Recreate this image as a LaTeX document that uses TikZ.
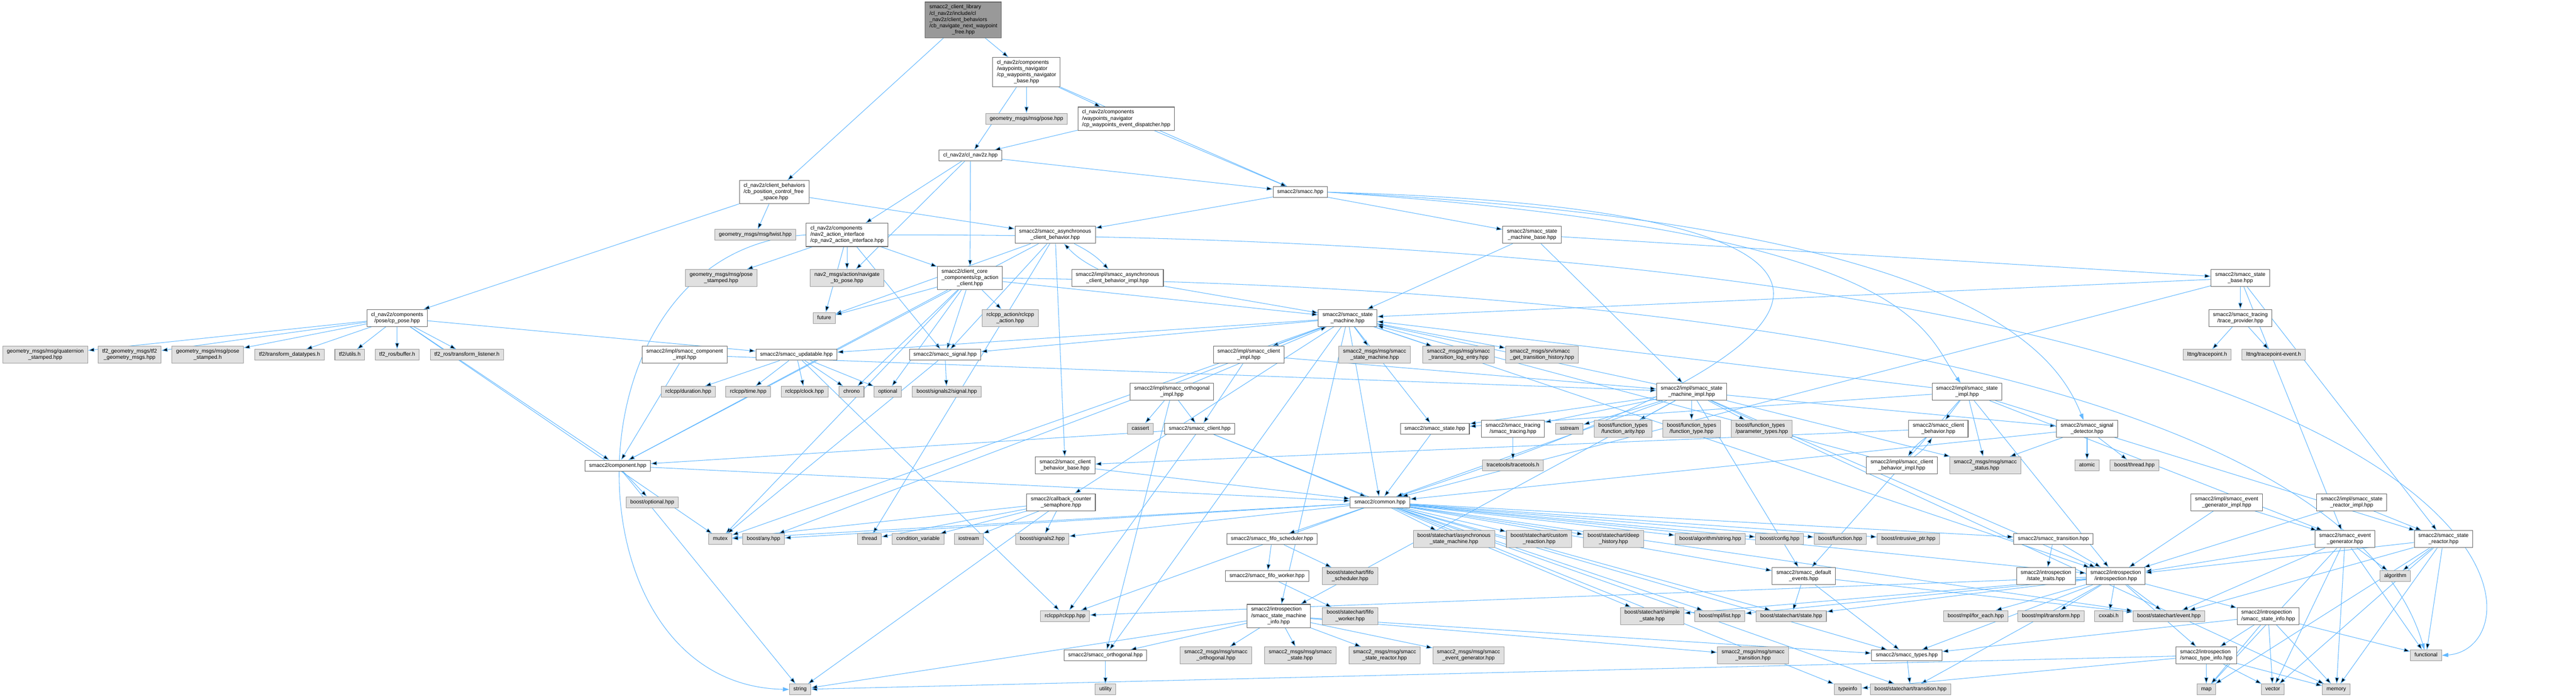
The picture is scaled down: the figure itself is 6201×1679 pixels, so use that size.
\documentclass[tikz,border=0pt]{standalone}
\usepackage{fontspec}
\setmainfont{Liberation Sans}
\usetikzlibrary{arrows.meta,backgrounds}
\definecolor{edgeblue}{HTML}{63B8FF}
\definecolor{docline}{HTML}{666666}
\definecolor{extline}{HTML}{999999}
\definecolor{extfill}{HTML}{E0E0E0}
\definecolor{rootfill}{HTML}{999999}
\newcommand{\dlab}[2]{\begin{tabular}{@{}l@{}}#1\\\multicolumn{1}{@{}c@{}}{#2}\end{tabular}}
\newcommand{\slab}[1]{\begin{tabular}{@{}c@{}}#1\end{tabular}}
\begin{document}
\begin{tikzpicture}[x=0.01cm,y=-0.01cm]
      \tikzset{incbox/.style={draw=docline, fill=white, line width=0.013cm, inner xsep=0.1cm, inner ysep=0.055cm, font=\fontsize{3.68pt}{4.27pt}\selectfont},
               extbox/.style={incbox, draw=extline, fill=extfill},
               rootbox/.style={incbox, fill=rootfill},
               dep/.style={draw=edgeblue, line width=0.013cm, -{Triangle[length=0.15cm,width=0.1cm]}}}
      \useasboundingbox (0,0) rectangle (6201,1679);
%% Files
      \node[rootbox] (root) at (2319,48) {\dlab{smacc2\_client\_library\\/cl\_nav2z/include/cl\\\_nav2z/client\_behaviors\\/cb\_navigate\_next\_waypoint}{\_free.hpp}};
      \node[incbox] (wnb) at (2471,174) {\dlab{cl\_nav2z/components\\/waypoints\_navigator\\/cp\_waypoints\_navigator}{\_base.hpp}};
      \node[extbox] (posehpp) at (2471,286) {\slab{geometry\_msgs/msg/pose.hpp}};
      \node[incbox] (wed) at (2711,286) {\dlab{cl\_nav2z/components\\/waypoints\_navigator}{/cp\_waypoints\_event\_dispatcher.hpp}};
      \node[incbox] (clnav) at (2336,375) {\slab{cl\_nav2z/cl\_nav2z.hpp}};
      \node[incbox] (smacc) at (3130,463) {\slab{smacc2/smacc.hpp}};
      \node[incbox] (cbpos) at (1864,463) {\dlab{cl\_nav2z/client\_behaviors\\/cb\_position\_control\_free}{\_space.hpp}};
      \node[extbox] (twist) at (1818,566) {\slab{geometry\_msgs/msg/twist.hpp}};
      \node[incbox] (nav2ai) at (2039,566) {\dlab{cl\_nav2z/components\\/nav2\_action\_interface}{/cp\_nav2\_action\_interface.hpp}};
      \node[incbox] (async) at (2540,566) {\dlab{smacc2/smacc\_asynchronous}{\_client\_behavior.hpp}};
      \node[incbox] (smbase) at (3688,566) {\dlab{smacc2/smacc\_state}{\_machine\_base.hpp}};
      \node[extbox] (pstamped) at (1736,670) {\dlab{geometry\_msgs/msg/pose}{\_stamped.hpp}};
      \node[extbox] (navpose) at (2039,670) {\dlab{nav2\_msgs/action/navigate}{\_to\_pose.hpp}};
      \node[incbox] (actcl) at (2335,670) {\dlab{smacc2/client\_core\\\_components/cp\_action}{\_client.hpp}};
      \node[incbox] (asyncimpl) at (2690,670) {\dlab{smacc2/impl/smacc\_asynchronous}{\_client\_behavior\_impl.hpp}};
      \node[incbox] (statebase) at (5393,670) {\dlab{smacc2/smacc\_state}{\_base.hpp}};
      \node[incbox] (cppose) at (956,766) {\dlab{cl\_nav2z/components}{/pose/cp\_pose.hpp}};
      \node[extbox] (future) at (1984,766) {\slab{future}};
      \node[extbox] (rclact) at (2432,766) {\dlab{rclcpp\_action/rclcpp}{\_action.hpp}};
      \node[incbox] (sm) at (3244,766) {\dlab{smacc2/smacc\_state}{\_machine.hpp}};
      \node[incbox] (trace) at (5393,766) {\dlab{smacc2/smacc\_tracing}{/trace\_provider.hpp}};
      \node[extbox] (quat) at (109,855) {\dlab{geometry\_msgs/msg/quaternion}{\_stamped.hpp}};
      \node[extbox] (tf2gm) at (312,855) {\dlab{tf2\_geometry\_msgs/tf2}{\_geometry\_msgs.hpp}};
      \node[extbox] (pstampedh) at (500,855) {\dlab{geometry\_msgs/msg/pose}{\_stamped.h}};
      \node[extbox] (tf2dt) at (697,855) {\slab{tf2/transform\_datatypes.h}};
      \node[extbox] (tf2utils) at (842,855) {\slab{tf2/utils.h}};
      \node[extbox] (tf2buf) at (956,855) {\slab{tf2\_ros/buffer.h}};
      \node[extbox] (tf2tl) at (1124,855) {\slab{tf2\_ros/transform\_listener.h}};
      \node[incbox] (compimpl) at (1648,855) {\dlab{smacc2/impl/smacc\_component}{\_impl.hpp}};
      \node[incbox] (updatable) at (1917,855) {\slab{smacc2/smacc\_updatable.hpp}};
      \node[incbox] (signal) at (2275,855) {\slab{smacc2/smacc\_signal.hpp}};
      \node[incbox] (clientimpl) at (3006,855) {\dlab{smacc2/impl/smacc\_client}{\_impl.hpp}};
      \node[extbox] (msgsm) at (3309,855) {\dlab{smacc2\_msgs/msg/smacc}{\_state\_machine.hpp}};
      \node[extbox] (msgtle) at (3511,855) {\dlab{smacc2\_msgs/msg/smacc}{\_transition\_log\_entry.hpp}};
      \node[extbox] (srvgth) at (3712,855) {\dlab{smacc2\_msgs/srv/smacc}{\_get\_transition\_history.hpp}};
      \node[extbox] (tptp) at (5313,855) {\slab{lttng/tracepoint.h}};
      \node[extbox] (tpev) at (5473,855) {\slab{lttng/tracepoint-event.h}};
      \node[extbox] (duration) at (1657,944) {\slab{rclcpp/duration.hpp}};
      \node[extbox] (rtime) at (1801,944) {\slab{rclcpp/time.hpp}};
      \node[extbox] (rclock) at (1937,944) {\slab{rclcpp/clock.hpp}};
      \node[extbox] (chrono) at (2050,944) {\slab{chrono}};
      \node[extbox] (optional) at (2137,944) {\slab{optional}};
      \node[extbox] (sig2sig) at (2279,944) {\slab{boost/signals2/signal.hpp}};
      \node[incbox] (orthimpl) at (2821,944) {\dlab{smacc2/impl/smacc\_orthogonal}{\_impl.hpp}};
      \node[incbox] (smimpl) at (4072,944) {\dlab{smacc2/impl/smacc\_state}{\_machine\_impl.hpp}};
      \node[incbox] (stateimpl) at (4735,944) {\dlab{smacc2/impl/smacc\_state}{\_impl.hpp}};
      \node[extbox] (cassert) at (2745,1033) {\slab{cassert}};
      \node[incbox] (client) at (2888,1033) {\slab{smacc2/smacc\_client.hpp}};
      \node[incbox] (state) at (3454,1033) {\slab{smacc2/smacc\_state.hpp}};
      \node[incbox] (tracing) at (3642,1033) {\dlab{smacc2/smacc\_tracing}{/smacc\_tracing.hpp}};
      \node[extbox] (sstream) at (3778,1033) {\slab{sstream}};
      \node[extbox] (ftarity) at (3907,1033) {\dlab{boost/function\_types}{/function\_arity.hpp}};
      \node[extbox] (fttype) at (4072,1033) {\dlab{boost/function\_types}{/function\_type.hpp}};
      \node[extbox] (ftparam) at (4241,1033) {\dlab{boost/function\_types}{/parameter\_types.hpp}};
      \node[incbox] (cb) at (4666,1033) {\dlab{smacc2/smacc\_client}{\_behavior.hpp}};
      \node[incbox] (sigdet) at (5024,1033) {\dlab{smacc2/smacc\_signal}{\_detector.hpp}};
      \node[incbox] (component) at (1487,1122) {\slab{smacc2/component.hpp}};
      \node[incbox] (cbbase) at (2564,1121) {\dlab{smacc2/smacc\_client}{\_behavior\_base.hpp}};
      \node[extbox] (tracetools) at (3642,1121) {\slab{tracetools/tracetools.h}};
      \node[incbox] (cbimpl) at (4578,1121) {\dlab{smacc2/impl/smacc\_client}{\_behavior\_impl.hpp}};
      \node[extbox] (msgstatus) at (4779,1121) {\dlab{smacc2\_msgs/msg/smacc}{\_status.hpp}};
      \node[extbox] (atomic) at (5024,1121) {\slab{atomic}};
      \node[extbox] (bthread) at (5138,1121) {\slab{boost/thread.hpp}};
      \node[extbox] (boostopt) at (1570,1210) {\slab{boost/optional.hpp}};
      \node[incbox] (semaphore) at (2554,1210) {\dlab{smacc2/callback\_counter}{\_semaphore.hpp}};
      \node[incbox] (common) at (3322,1210) {\slab{smacc2/common.hpp}};
      \node[incbox] (egimpl) at (5360,1210) {\dlab{smacc2/impl/smacc\_event}{\_generator\_impl.hpp}};
      \node[incbox] (srimpl) at (5661,1210) {\dlab{smacc2/impl/smacc\_state}{\_reactor\_impl.hpp}};
      \node[extbox] (mutex) at (1734,1299) {\slab{mutex}};
      \node[extbox] (bany) at (1838,1299) {\slab{boost/any.hpp}};
      \node[extbox] (thread) at (2093,1299) {\slab{thread}};
      \node[extbox] (condvar) at (2210,1299) {\slab{condition\_variable}};
      \node[extbox] (iostream) at (2332,1299) {\slab{iostream}};
      \node[extbox] (signals2) at (2509,1299) {\slab{boost/signals2.hpp}};
      \node[incbox] (fifosched) at (3062,1299) {\slab{smacc2/smacc\_fifo\_scheduler.hpp}};
      \node[extbox] (asyncsm) at (3500,1299) {\dlab{boost/statechart/asynchronous}{\_state\_machine.hpp}};
      \node[extbox] (customr) at (3705,1299) {\dlab{boost/statechart/custom}{\_reaction.hpp}};
      \node[extbox] (deephist) at (3884,1299) {\dlab{boost/statechart/deep}{\_history.hpp}};
      \node[extbox] (algstr) at (4117,1299) {\slab{boost/algorithm/string.hpp}};
      \node[extbox] (bconfig) at (4284,1299) {\slab{boost/config.hpp}};
      \node[extbox] (bfunction) at (4430,1299) {\slab{boost/function.hpp}};
      \node[extbox] (intrusive) at (4594,1299) {\slab{boost/intrusive\_ptr.hpp}};
      \node[incbox] (transition) at (4943,1299) {\slab{smacc2/smacc\_transition.hpp}};
      \node[incbox] (evgen) at (5645,1299) {\dlab{smacc2/smacc\_event}{\_generator.hpp}};
      \node[incbox] (sreactor) at (5882,1299) {\dlab{smacc2/smacc\_state}{\_reactor.hpp}};
      \node[incbox] (fifoworker) at (3050,1388) {\slab{smacc2/smacc\_fifo\_worker.hpp}};
      \node[extbox] (bfifosched) at (3250,1388) {\dlab{boost/statechart/fifo}{\_scheduler.hpp}};
      \node[incbox] (defevents) at (4342,1388) {\dlab{smacc2/smacc\_default}{\_events.hpp}};
      \node[incbox] (traits) at (4925,1388) {\dlab{smacc2/introspection}{/state\_traits.hpp}};
      \node[incbox] (intro) at (5093,1388) {\dlab{smacc2/introspection}{/introspection.hpp}};
      \node[extbox] (algorithm) at (5766,1388) {\slab{algorithm}};
      \node[extbox] (rclcpp) at (2564,1484) {\slab{rclcpp/rclcpp.hpp}};
      \node[incbox] (sminfo) at (3078,1484) {\dlab{smacc2/introspection\\/smacc\_state\_machine}{\_info.hpp}};
      \node[extbox] (bfifoworker) at (3250,1484) {\dlab{boost/statechart/fifo}{\_worker.hpp}};
      \node[extbox] (simplestate) at (3977,1484) {\dlab{boost/statechart/simple}{\_state.hpp}};
      \node[extbox] (mpllist) at (4140,1484) {\slab{boost/mpl/list.hpp}};
      \node[extbox] (scstate) at (4312,1484) {\slab{boost/statechart/state.hpp}};
      \node[extbox] (foreach) at (4756,1484) {\slab{boost/mpl/for\_each.hpp}};
      \node[extbox] (mpltransform) at (4937,1484) {\slab{boost/mpl/transform.hpp}};
      \node[extbox] (cxxabi) at (5076,1484) {\slab{cxxabi.h}};
      \node[extbox] (scevent) at (5221,1484) {\slab{boost/statechart/event.hpp}};
      \node[incbox] (stateinfo) at (5460,1484) {\dlab{smacc2/introspection}{/smacc\_state\_info.hpp}};
      \node[incbox] (orth) at (2661,1579) {\slab{smacc2/smacc\_orthogonal.hpp}};
      \node[extbox] (msgorth) at (2927,1579) {\dlab{smacc2\_msgs/msg/smacc}{\_orthogonal.hpp}};
      \node[extbox] (msgstate) at (3130,1579) {\dlab{smacc2\_msgs/msg/smacc}{\_state.hpp}};
      \node[extbox] (msgsreactor) at (3333,1579) {\dlab{smacc2\_msgs/msg/smacc}{\_state\_reactor.hpp}};
      \node[extbox] (msgevgen) at (3535,1579) {\dlab{smacc2\_msgs/msg/smacc}{\_event\_generator.hpp}};
      \node[extbox] (msgtrans) at (4220,1579) {\dlab{smacc2\_msgs/msg/smacc}{\_transition.hpp}};
      \node[incbox] (types) at (4590,1579) {\slab{smacc2/smacc\_types.hpp}};
      \node[incbox] (typeinf) at (5311,1579) {\dlab{smacc2/introspection}{/smacc\_type\_info.hpp}};
      \node[extbox] (functional) at (5840,1579) {\slab{functional}};
      \node[extbox] (string) at (1926,1661) {\slab{string}};
      \node[extbox] (utility) at (2661,1661) {\slab{utility}};
      \node[extbox] (typeinfo) at (4448,1661) {\slab{typeinfo}};
      \node[extbox] (sctrans) at (4599,1661) {\slab{boost/statechart/transition.hpp}};
      \node[extbox] (map) at (5311,1661) {\slab{map}};
      \node[extbox] (vector) at (5471,1661) {\slab{vector}};
      \node[extbox] (memory) at (5624,1661) {\slab{memory}};
%Includes
      \begin{pgfonlayer}{background}
		\path[dep] (root) edge (cbpos) edge (wnb);
		\path[dep] (cbpos) edge (twist) edge (async) edge (cppose);
		\path[dep] (wnb) edge (posehpp) edge (wed) edge (clnav) edge (smacc);
		\path[dep] (wed) edge (clnav) edge (smacc);
		\path[dep] (clnav) edge (nav2ai) edge (navpose) edge (actcl) edge (smacc);
		\path[dep] (nav2ai) edge (pstamped) edge (navpose) edge (actcl) edge (future) edge (signal);
		\draw[dep] (nav2ai.east) .. controls (6150,560) and (6150,1560) .. (functional.east);
		\draw[dep] (nav2ai.west) .. controls (1350,600) and (1350,1650) .. (string.west);
		\path[dep] (smacc) edge (async) edge (smbase);
		\draw[dep] (smacc.east) .. controls (4600,500) and (4590,800) .. (common);
		\draw[dep] (smacc.east) .. controls (4750,540) and (4950,850) .. (sigdet);
		\draw[dep] (smacc.east) .. controls (4630,560) and (4630,800) .. (stateimpl);
		\path[dep] (async) edge (future) edge (cbbase) edge (component) edge (signal) edge (thread) edge[bend left=10] (asyncimpl);
		\path[dep] (asyncimpl) edge[bend left=10] (async) edge (sm);
		\path[dep] (actcl) edge (rclact) edge (future) edge (component) edge (signal) edge (optional) edge (chrono) edge (sm) edge (mutex);
		\draw[dep] (actcl.east) .. controls (4800,700) and (5700,1100) .. (functional);
		\path[dep] (cppose) edge (quat) edge (tf2gm) edge (pstampedh) edge (tf2dt) edge (tf2utils) edge (tf2buf) edge (tf2tl) edge (mutex) edge (component) edge (updatable);
		\path[dep] (component) edge (boostopt) edge (common) edge (string);
		\path[dep] (compimpl) edge (component) edge (smimpl);
		\path[dep] (updatable) edge (duration) edge (rtime) edge (rclock) edge (chrono) edge (optional) edge (rclcpp);
		\path[dep] (signal) edge (sig2sig) edge (mutex);
		\path[dep] (clientimpl) edge (client) edge (smimpl);
		\path[dep] (orthimpl) edge (cassert) edge (client) edge (orth) edge (sm);
		\path[dep] (client) edge (component) edge (common) edge (rclcpp) edge (typeinfo);
		\path[dep] (cbbase) edge (common);
		\path[dep] (semaphore) edge (mutex) edge (thread) edge (condvar) edge (iostream) edge (signals2) edge (string);
		\path[dep] (sm) edge (clientimpl) edge (bany) edge (mutex) edge (common) edge (intro) edge (sminfo) edge (signal) edge (updatable) edge (msgsm) edge (msgtle) edge (srvgth) edge (semaphore) edge (state) edge (orth);
		\path[dep] (smbase) edge (sm) edge (statebase) edge (smimpl);
		\path[dep] (statebase) edge (trace) edge (common) edge (evgen) edge (sreactor) edge (sm);
		\path[dep] (trace) edge (tptp) edge (tpev);
		\path[dep] (smimpl) edge (sm) edge (state) edge (tracing) edge (sstream) edge (ftarity) edge (fttype) edge (ftparam) edge (common) edge (sminfo) edge (msgstatus) edge (sigdet) edge (intro) edge (defevents) edge (memory);
		\path[dep] (stateimpl) edge (cb) edge (sm) edge (sreactor) edge (evgen) edge (intro) edge (msgstatus) edge (defevents) edge (state);
		\path[dep] (state) edge (common);
		\path[dep] (tracing) edge (tracetools);
		\path[dep] (cb) edge (cbbase) edge[bend right=10] (cbimpl);
		\path[dep] (cbimpl) edge[bend right=10] (cb) edge (sm);
		\path[dep] (sigdet) edge (msgstatus) edge (atomic) edge (bthread) edge (common);
		\path[dep] (egimpl) edge (evgen) edge (intro);
		\path[dep] (srimpl) edge (sreactor) edge (intro);
		\path[dep] (evgen) edge (intro) edge (scevent) edge (map) edge (vector) edge (memory) edge (functional) edge (algorithm);
		\path[dep] (sreactor) edge (intro) edge (algorithm) edge (functional) edge (scevent) edge (map) edge (vector) edge (memory);
		\path[dep] (transition) edge (traits) edge (intro);
		\path[dep] (intro) edge (foreach) edge (mpltransform) edge (cxxabi) edge (scevent) edge (stateinfo) edge (scstate) edge (simplestate) edge (mpllist) edge (types) edge (sctrans) edge (typeinf) edge (rclcpp);
		\path[dep] (stateinfo) edge (typeinf) edge (vector) edge (memory) edge (map) edge (functional) edge (types);
		\path[dep] (typeinf) edge (map) edge (vector) edge (memory) edge (typeinfo) edge (string);
		\path[dep] (types) edge (sctrans);
		\path[dep] (defevents) edge (scstate) edge (types) edge (scevent);
		\path[dep] (common) edge (asyncsm) edge (customr) edge (deephist) edge (algstr) edge (bconfig) edge (bfunction) edge (intrusive) edge (defevents) edge (fifosched) edge (simplestate) edge (mpllist) edge (scstate) edge (types) edge (scevent) edge (sctrans) edge (bany) edge (signals2) edge (mutex) edge (rclcpp) edge (intro) edge (transition);
		\path[dep] (fifosched) edge (bfifosched) edge (fifoworker);
		\path[dep] (fifoworker) edge (bfifoworker);
		\path[dep] (sminfo) edge (msgorth) edge (msgstate) edge (msgsreactor) edge (msgevgen) edge (msgtrans) edge (orth) edge (string) edge (types);
		\path[dep] (orth) edge (utility);
      \end{pgfonlayer}
	\end{tikzpicture}
\end{document}
